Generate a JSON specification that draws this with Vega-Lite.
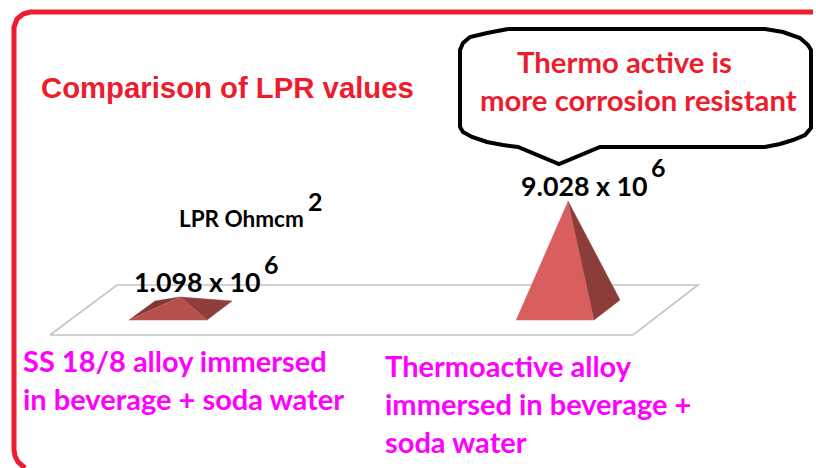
{"$schema":"https://vega.github.io/schema/vega-lite/v6.json","width":816,"height":468,"padding":0,"autosize":{"type":"fit","contains":"padding"},"background":"white","config":{"view":{"stroke":null}},
"datasets":{
"border":[{"x":816,"y":12,"o":0},{"x":30,"y":12,"o":1},{"x":23,"y":14,"o":2},{"x":17,"y":19,"o":3},{"x":14,"y":27,"o":4},{"x":14,"y":450,"o":5},{"x":15,"y":456,"o":6},{"x":18,"y":462,"o":7},{"x":25,"y":468,"o":8}],
"floor":[{"x":50,"y":335,"o":0},{"x":117,"y":285,"o":1},{"x":698,"y":285,"o":2},{"x":633,"y":335,"o":3},{"x":50,"y":335,"o":4}],
"bubble":[{"x":508,"y":29,"o":0},{"x":765,"y":29,"o":1},{"x":783,"y":32,"o":2},{"x":800,"y":38,"o":3},{"x":808,"y":45,"o":4},{"x":811,"y":50,"o":5},{"x":811,"y":128,"o":6},{"x":805,"y":135,"o":7},{"x":793,"y":140,"o":8},{"x":780,"y":144,"o":9},{"x":765,"y":147,"o":10},{"x":600,"y":147,"o":11},{"x":559,"y":164,"o":12},{"x":518,"y":147,"o":13},{"x":503,"y":145,"o":14},{"x":487,"y":142,"o":15},{"x":472,"y":137,"o":16},{"x":463,"y":132,"o":17},{"x":460,"y":127,"o":18},{"x":460,"y":50,"o":19},{"x":463,"y":43,"o":20},{"x":470,"y":37,"o":21},{"x":487,"y":33,"o":22},{"x":508,"y":29,"o":23}],
"faces":[
{"face":"SS back left","x":129,"y":320,"o":0},{"face":"SS back left","x":155,"y":301,"o":1},{"face":"SS back left","x":180,"y":297,"o":2},
{"face":"SS right","x":207,"y":320,"o":0},{"face":"SS right","x":232,"y":301,"o":1},{"face":"SS right","x":180,"y":297,"o":2},
{"face":"SS front","x":129,"y":320,"o":0},{"face":"SS front","x":207,"y":320,"o":1},{"face":"SS front","x":180,"y":297,"o":2},
{"face":"TA front","x":516,"y":320,"o":0},{"face":"TA front","x":594,"y":320,"o":1},{"face":"TA front","x":568,"y":201,"o":2},
{"face":"TA right","x":594,"y":320,"o":0},{"face":"TA right","x":620,"y":300,"o":1},{"face":"TA right","x":568,"y":201,"o":2}],
"title":[{"t":"Comparison of LPR values","x":41,"y":98}],
"note":[{"t":"Thermo active is","x":517,"y":73},{"t":"more corrosion resistant","x":480,"y":111}],
"cat":[{"t":"SS 18/8 alloy immersed","x":23,"y":372},{"t":"in beverage + soda water","x":23,"y":410},{"t":"Thermoactive alloy","x":385,"y":377},{"t":"immersed in beverage +","x":385,"y":415},{"t":"soda water","x":385,"y":453}],
"axisT":[{"t":"LPR Ohmcm","x":179,"y":227}],
"val":[{"t":"1.098 x 10","x":134,"y":292},{"t":"9.028 x 10","x":521,"y":196}],
"sup":[{"t":"6","x":264,"y":274},{"t":"6","x":651,"y":177},{"t":"2","x":308,"y":211}]
},
"encoding":{"x":{"field":"x","type":"quantitative","scale":{"domain":[0,816],"range":[0,816]},"axis":null},"y":{"field":"y","type":"quantitative","scale":{"domain":[0,468],"range":[0,468]},"axis":null},"order":{"field":"o"}},
"layer":[
{"data":{"name":"border"},"mark":{"type":"line","stroke":"#ed1c2e","strokeWidth":5,"clip":true}},
{"data":{"name":"floor"},"mark":{"type":"line","stroke":"#c4c4c4","strokeWidth":1.6,"fill":"white"}},
{"data":{"name":"faces"},"mark":{"type":"line","strokeWidth":0.5},"encoding":{"fill":{"field":"face","type":"nominal","legend":null,"scale":{"domain":["SS back left","SS right","SS front","TA front","TA right"],"range":["#843835","#8f3e3b","#b5504d","#d95f5e","#8c3c39"]}},"stroke":{"field":"face","type":"nominal","legend":null,"scale":{"domain":["SS back left","SS right","SS front","TA front","TA right"],"range":["#843835","#8f3e3b","#b5504d","#d95f5e","#8c3c39"]}}}},
{"data":{"name":"bubble"},"mark":{"type":"line","stroke":"black","strokeWidth":4,"fill":"white"}},
{"data":{"name":"title"},"mark":{"type":"text","align":"left","baseline":"alphabetic","font":"Liberation Sans","fontWeight":"bold","fontSize":29.3,"fill":"#ed1c2e"},"encoding":{"text":{"field":"t"}}},
{"data":{"name":"note"},"mark":{"type":"text","align":"left","baseline":"alphabetic","font":"Lato","fontWeight":"bold","fontSize":29.3,"fill":"#ed1c2e"},"encoding":{"text":{"field":"t"}}},
{"data":{"name":"cat"},"mark":{"type":"text","align":"left","baseline":"alphabetic","font":"Lato","fontWeight":"bold","fontSize":29,"fill":"#ff00ff"},"encoding":{"text":{"field":"t"}}},
{"data":{"name":"axisT"},"mark":{"type":"text","align":"left","baseline":"alphabetic","font":"Lato","fontWeight":"bold","fontSize":22.5,"fill":"black"},"encoding":{"text":{"field":"t"}}},
{"data":{"name":"val"},"mark":{"type":"text","align":"left","baseline":"alphabetic","font":"Lato","fontWeight":"bold","fontSize":26.8,"fill":"black"},"encoding":{"text":{"field":"t"}}},
{"data":{"name":"sup"},"mark":{"type":"text","align":"left","baseline":"alphabetic","font":"Lato","fontWeight":"bold","fontSize":25,"fill":"black"},"encoding":{"text":{"field":"t"}}}
]}
